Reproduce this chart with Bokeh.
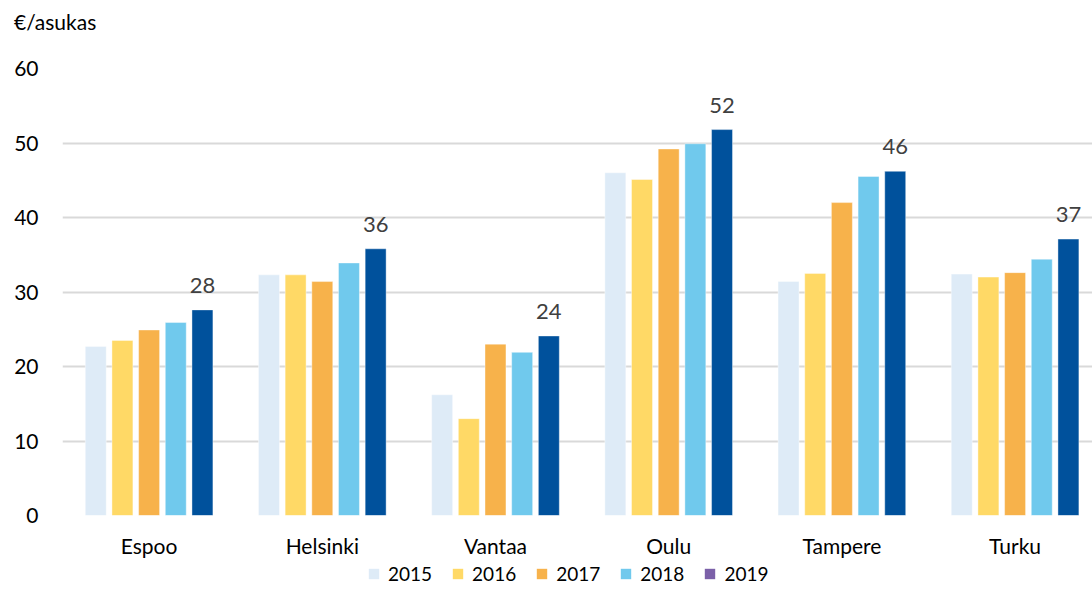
from bokeh.plotting import figure
from bokeh.layouts import column
from bokeh.models import FixedTicker, Legend, LegendItem, ColumnDataSource, Div, Range1d
from bokeh.embed import file_html
from bokeh.resources import INLINE
from bokeh.core.properties import value

cities = ["Espoo", "Helsinki", "Vantaa", "Oulu", "Tampere", "Turku"]
years = ["2015", "2016", "2017", "2018", "2019"]
v2015 = [22.7, 32.3, 16.2, 46.0, 31.4, 32.4]
v2016 = [23.5, 32.3, 13.0, 45.1, 32.5, 32.0]
v2017 = [24.9, 31.4, 23.0, 49.2, 42.0, 32.6]
v2018 = [25.9, 33.9, 21.9, 49.9, 45.5, 34.4]
v2019 = [27.6, 35.8, 24.1, 51.8, 46.2, 37.1]
bar_colors = ["#DEEBF7", "#FFD966", "#F7B24B", "#70C9ED", "#00519C"]
legend_colors = ["#DEEBF7", "#FFD966", "#F7B24B", "#70C9ED", "#7B60A8"]
series = [v2015, v2016, v2017, v2018, v2019]
unit_label = "€/asukas"

FONT = "Lato"
FS = "21px"
pitch = 0.154
bw = 0.121

# title strip
tdiv = Div(text=unit_label, width=1092, height=44, margin=0,
           styles={"font-family": FONT, "font-size": FS, "line-height": "44px",
                   "text-indent": "14px", "color": "#000000"})

p = figure(width=1092, height=516, output_backend="svg", toolbar_location=None,
           x_range=Range1d(0, 5.947), y_range=Range1d(0, 60),
           min_border_left=62, min_border_right=0, min_border_top=24, min_border_bottom=42)
p.outline_line_color = None
p.xgrid.grid_line_color = None
p.ygrid.grid_line_color = "#D9D9D9"
p.ygrid.grid_line_width = 2

for k, vals in enumerate(series):
    xs = [i + 0.5 + (k - 2) * pitch for i in range(len(cities))]
    src = ColumnDataSource(dict(x=xs, top=vals))
    p.vbar(x="x", top="top", width=bw, source=src, fill_color=bar_colors[k],
           line_color="white", line_alpha=0.4, line_width=1)

lab_src = ColumnDataSource(dict(x=[i + 0.5 + 2 * pitch for i in range(len(cities))],
                                y=v2019, t=[str(round(v)) for v in v2019]))
p.text(x="x", y="y", text="t", source=lab_src, text_align="center", text_baseline="bottom",
       y_offset=-17, text_color="#404040", text_font=value(FONT), text_font_size="22px")

p.xaxis.ticker = FixedTicker(ticks=[i + 0.5 for i in range(len(cities))])
p.xaxis.major_label_overrides = {i + 0.5: c for i, c in enumerate(cities)}
p.xaxis.axis_line_color = None
p.xaxis.major_tick_line_color = None
p.xaxis.minor_tick_line_color = None
p.xaxis.major_label_standoff = 11
p.xaxis.major_label_text_font = FONT
p.xaxis.major_label_text_font_size = FS
p.xaxis.major_label_text_color = "#000000"

p.yaxis.ticker = FixedTicker(ticks=[0, 10, 20, 30, 40, 50, 60])
p.yaxis.axis_line_color = None
p.yaxis.major_tick_line_color = None
p.yaxis.minor_tick_line_color = None
p.yaxis.major_label_standoff = 18
p.yaxis.major_label_text_font = FONT
p.yaxis.major_label_text_font_size = FS
p.yaxis.major_label_text_color = "#000000"

# legend strip
lg = figure(width=1092, height=47, output_backend="svg", toolbar_location=None,
            x_range=Range1d(0, 1), y_range=Range1d(0, 1),
            min_border_left=0, min_border_right=0, min_border_top=0, min_border_bottom=0)
lg.axis.visible = False
lg.grid.visible = False
lg.outline_line_color = None
items = []
for k, y in enumerate(years):
    r = lg.vbar(x=[-10], top=[-10], width=0.1, fill_color=legend_colors[k], line_color=None)
    items.append(LegendItem(label=y, renderers=[r]))
legend = Legend(items=items, orientation="horizontal", location=(305, 22),
                label_text_font=FONT, label_text_font_size="19px", label_text_color="#000000",
                glyph_width=13, glyph_height=13, spacing=19, label_standoff=8,
                border_line_color=None, background_fill_alpha=0, margin=0, padding=0)
lg.add_layout(legend, "center")

open("out.html", "w").write(file_html(column(tdiv, p, lg, spacing=0), INLINE))
